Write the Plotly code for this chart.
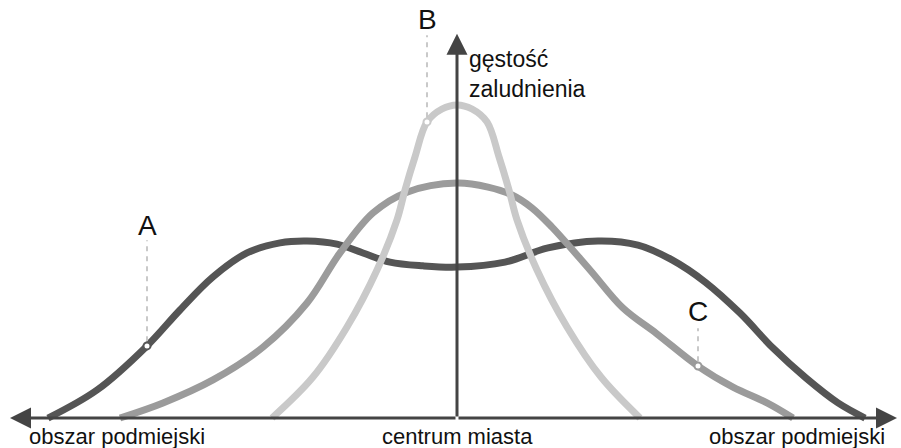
import plotly.graph_objects as go

# Population density profiles (distance from centre, density).
dist_a = [-102.25, -90, -77.5, -69.25, -61, -52.5, -44.25, -37.5, -30, -23.5, -16.75, -8.5, 0,
          12, 22.75, 35.25, 45.25, 53.75, 62, 70.75, 79, 87.25, 95.25, 102]
dens_a = [0, 8.9, 22.9, 34.3, 44.8, 52.4, 55.6, 56.2, 55.2, 52.4, 49.5, 48.3, 47.9,
          49.5, 54, 56.2, 54.9, 50.2, 43.2, 33.3, 22.2, 12.7, 4.8, 0]

dist_b = [-46.25, -36, -27.5, -20, -15, -13, -10.5, -7.5, -3.75, 0,
          3.75, 7.5, 10.5, 13, 15, 20, 27.5, 36, 45.75]
dens_b = [0, 13, 28.9, 47, 62.9, 72.4, 82.9, 94, 98.1, 99.4,
          98.1, 94, 82.9, 72.4, 62.9, 47, 28.9, 13, 0]

dist_c = [-84.25, -73.5, -61, -48.5, -37.5, -29.25, -21, -12.5, 0,
          7.75, 13.75, 18.75, 23.75, 33.25, 41.5, 50, 60.25, 69, 77.5, 84]
dens_c = [0, 4.8, 12.1, 22.5, 36.5, 52.4, 65.1, 71.7, 74.6,
          73.3, 70.8, 66.7, 60.6, 47, 34.9, 26.7, 16.5, 9.8, 4.8, 0]

# highlighted points on each curve
point_labels = ["A", "B", "C"]
point_dist = [-77.5, -7.5, 60.25]
point_dens = [22.9, 94, 16.5]

colors = {"A": "#555555", "B": "#c9c9c9", "C": "#9b9b9b"}
font = "Liberation Sans, Arial, sans-serif"

fig = go.Figure()

# draw order: dark, medium, light on top
for name, xs, ys in [("A", dist_a, dens_a), ("C", dist_c, dens_c), ("B", dist_b, dens_b)]:
    fig.add_trace(go.Scatter(x=xs, y=ys, mode="lines",
                             line=dict(color=colors[name], width=7, shape="spline", smoothing=1),
                             hoverinfo="skip", showlegend=False))

# dashed guides + markers + letters
guide_len = {"A": 32, "B": 26, "C": 10.5}
label_gap = {"A": 4.6, "B": 5, "C": 5.4}
for lab, px, py in zip(point_labels, point_dist, point_dens):
    top = py + 1.5 + guide_len[lab]
    fig.add_trace(go.Scatter(x=[px, px], y=[py + 1.5, top], mode="lines",
                             line=dict(color="#c4c4c4", width=1.8, dash="5px,5px"),
                             hoverinfo="skip", showlegend=False))
    fig.add_trace(go.Scatter(x=[px], y=[py], mode="markers",
                             marker=dict(size=7, color="white",
                                         line=dict(color=colors[lab], width=2)),
                             hoverinfo="skip", showlegend=False))
    fig.add_annotation(x=px, y=top + label_gap[lab], text=lab, showarrow=False,
                       font=dict(size=28, color="#111111", family=font))

# axes with arrow heads
axis_col = "#444444"
for tip_x, tip_y in [(110, 0), (-111.75, 0), (0, 122)]:
    fig.add_annotation(x=tip_x, y=tip_y, ax=0, ay=0, axref="x", ayref="y",
                       xref="x", yref="y", text="", showarrow=True,
                       arrowhead=2, arrowsize=1.4, arrowwidth=3, arrowcolor=axis_col)

txt = dict(size=23, color="#111111", family=font)
fig.add_annotation(x=2.5, y=109.2, text="gęstość<br>zaludnienia", showarrow=False,
                   xanchor="left", align="left", font=txt)
bottom = dict(size=22, color="#111111", family=font)
fig.add_annotation(x=-107.5, y=-6.0, text="obszar podmiejski", showarrow=False,
                   xanchor="left", font=bottom)
fig.add_annotation(x=0, y=-6.0, text="centrum miasta", showarrow=False, font=bottom)
fig.add_annotation(x=107.5, y=-6.0, text="obszar podmiejski", showarrow=False,
                   xanchor="right", font=bottom)

fig.update_layout(width=901, height=448, margin=dict(l=0, r=0, t=0, b=0),
                  plot_bgcolor="white", paper_bgcolor="white",
                  xaxis=dict(range=[-114.25, 111], visible=False, fixedrange=True),
                  yaxis=dict(range=[-9.52, 132.7], visible=False, fixedrange=True))

# page has a default 8px body margin; drop it so the figure fills the window
fig.write_html("out.html", config={"displayModeBar": False},
               post_script="document.body.style.margin='0px';document.body.style.overflow='hidden';")
